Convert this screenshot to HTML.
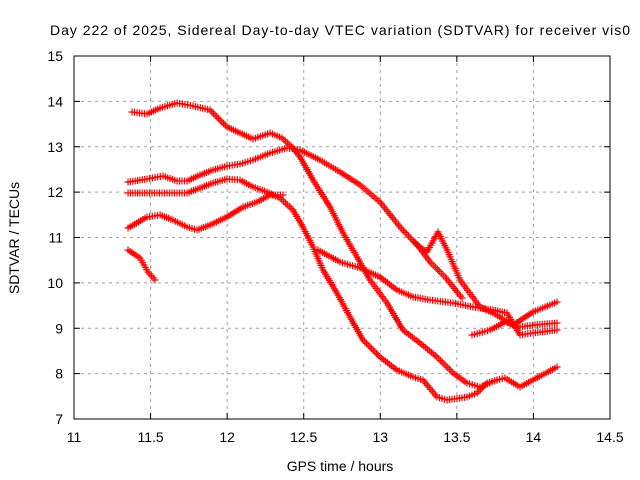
<!DOCTYPE html>
<html><head><meta charset="utf-8"><style>
body{margin:0;background:#fff}
svg{display:block;font-family:"Liberation Sans",sans-serif}
</style></head><body>
<svg id="chart" width="640" height="480" viewBox="0 0 640 480" xmlns="http://www.w3.org/2000/svg">
<rect width="640" height="480" fill="#fff"/>
<text x="340" y="35" text-anchor="middle" font-size="14" textLength="580">Day 222 of 2025, Sidereal Day-to-day VTEC variation (SDTVAR) for receiver vis0</text>
<g id="grid"></g>
<g id="ticks"></g>
<g id="series"></g>
<rect x="74" y="56" width="536" height="363" fill="none" stroke="#000" stroke-width="1"/>
<text x="340" y="471" text-anchor="middle" font-size="14">GPS time / hours</text>
<text x="19" y="238" text-anchor="middle" font-size="14" transform="rotate(-90 19 238)">SDTVAR / TECUs</text>
</svg>
<script>
const xTicks=[11,11.5,12,12.5,13,13.5,14,14.5];
const xTickLabels=["11","11.5","12","12.5","13","13.5","14","14.5"];
const yTicks=[7,8,9,10,11,12,13,14,15];
const yTickLabels=["7","8","9","10","11","12","13","14","15"];
const seriesA_t=[11.379,11.477,11.562,11.673,11.777,11.888,11.999,12.084,12.169,12.280,12.358,12.430,12.476,12.561,12.672,12.757,12.848,12.933,13.044,13.148,13.259,13.370,13.475,13.566,13.651,13.762,13.814,13.912,13.997,14.154];
const seriesA_v=[13.766,13.722,13.854,13.964,13.898,13.810,13.435,13.303,13.171,13.303,13.193,12.972,12.774,12.267,11.672,11.099,10.570,10.063,9.556,8.961,8.675,8.366,8.014,7.793,7.705,7.860,7.904,7.705,7.860,8.146];
const seriesB_t=[11.353,11.477,11.581,11.673,11.738,11.823,11.908,11.999,12.084,12.169,12.280,12.391,12.476,12.606,12.737,12.868,12.998,13.129,13.240,13.305,13.377,13.436,13.521,13.651,13.736,13.867,13.997,14.154];
const seriesB_v=[12.223,12.289,12.355,12.245,12.245,12.377,12.488,12.576,12.620,12.708,12.862,12.972,12.928,12.708,12.444,12.157,11.782,11.231,10.835,10.680,11.121,10.724,10.063,9.468,9.336,9.072,9.358,9.579];
const seriesC_t=[11.353,11.477,11.607,11.738,11.823,11.908,11.999,12.084,12.169,12.260,12.345,12.430,12.495,12.561,12.626,12.717,12.802,12.887,12.998,13.109,13.214,13.279,13.370,13.436,13.566,13.632,13.697,13.762];
const seriesC_v=[11.981,11.981,11.981,11.981,12.091,12.201,12.289,12.267,12.113,12.003,11.870,11.606,11.231,10.791,10.284,9.777,9.248,8.741,8.366,8.080,7.926,7.860,7.485,7.419,7.485,7.573,7.793,7.860];
const seriesD_t=[11.353,11.477,11.562,11.646,11.738,11.803,11.888,11.999,12.104,12.195,12.280,12.365];
const seriesD_v=[11.209,11.452,11.496,11.386,11.231,11.165,11.275,11.452,11.672,11.782,11.937,11.937];
const seriesE_t=[12.593,12.737,12.868,12.998,13.109,13.214,13.325,13.475,13.605,13.736,13.827,13.912,13.997,14.154];
const seriesE_v=[10.724,10.460,10.328,10.129,9.843,9.689,9.623,9.556,9.468,9.402,9.336,8.851,8.895,8.961];
const seriesF_t=[13.599,13.717,13.814,13.912,14.010,14.154];
const seriesF_v=[8.851,8.961,9.138,9.028,9.072,9.116];
const seriesG_t=[11.353,11.431,11.483,11.529];
const seriesG_v=[10.724,10.548,10.240,10.063];
const seriesH_t=[13.227,13.325,13.423,13.534];
const seriesH_v=[10.901,10.460,10.129,9.667];

const NS="http://www.w3.org/2000/svg";
const X0=74,X1=610,Y0=419,Y1=56;
function xs(t){return X0+(t-11)/3.5*(X1-X0);}
function ys(v){return Y0-(v-7)/8*(Y0-Y1);}
function mk(tag,attrs,parent){const e=document.createElementNS(NS,tag);for(const k in attrs)e.setAttribute(k,attrs[k]);parent.appendChild(e);return e;}
const grid=document.getElementById('grid'),ticks=document.getElementById('ticks'),ser=document.getElementById('series');
xTicks.forEach((t,i)=>{
  const x=xs(t);
  if(i>0&&i<xTicks.length-1){const l=mk('line',{x1:x,x2:x,y1:Y1,y2:Y0,stroke:'#a0a0a0','stroke-dasharray':'3,4'},grid);
  
  }
  const tk=mk('path',{d:`M${x},${Y0}v-6M${x},${Y1}v6`,stroke:'#000'},ticks);
  
  
  const tx=mk('text',{x:x,y:442,'text-anchor':'middle','font-size':'14'},ticks);tx.textContent=xTickLabels[i];
  
  
});
yTicks.forEach((v,i)=>{
  const y=ys(v);
  if(i>0&&i<yTicks.length-1){const l=mk('line',{x1:X0,x2:X1,y1:y,y2:y,stroke:'#a0a0a0','stroke-dasharray':'3,4'},grid);
  
  }
  const tk=mk('path',{d:`M${X0},${y}h6M${X1},${y}h-6`,stroke:'#000'},ticks);
  
  
  const tx=mk('text',{x:63,y:y+5,'text-anchor':'end','font-size':'14'},ticks);tx.textContent=yTickLabels[i];
  
  
});
const all=[['a',seriesA_t,seriesA_v],['b',seriesB_t,seriesB_v],['c',seriesC_t,seriesC_v],['d',seriesD_t,seriesD_v],['e',seriesE_t,seriesE_v],['f',seriesF_t,seriesF_v],['g',seriesG_t,seriesG_v],['h',seriesH_t,seriesH_v]];
all.forEach(([n,T,V])=>{
  const g=mk('g',{},ser);
  
  
  let d='';
  for(let i=0;i<T.length;i++){
    const x1=xs(T[i]),y1=ys(V[i]);
    if(i===0){d+=`M${x1-3.5},${y1}h7M${x1},${y1-3.5}v7`;continue;}
    const x0=xs(T[i-1]),y0=ys(V[i-1]);
    const len=Math.hypot(x1-x0,y1-y0),steps=Math.max(1,Math.round(len/2.5));
    for(let s=1;s<=steps;s++){const x=x0+(x1-x0)*s/steps,y=y0+(y1-y0)*s/steps;d+=`M${(x-3.5).toFixed(1)},${y.toFixed(1)}h7M${x.toFixed(1)},${(y-3.5).toFixed(1)}v7`;}
  }
  const p=mk('path',{d:d,stroke:'#ff0000','stroke-width':'1.2',fill:'none'},g);
  
  
});
</script>
</body></html>
